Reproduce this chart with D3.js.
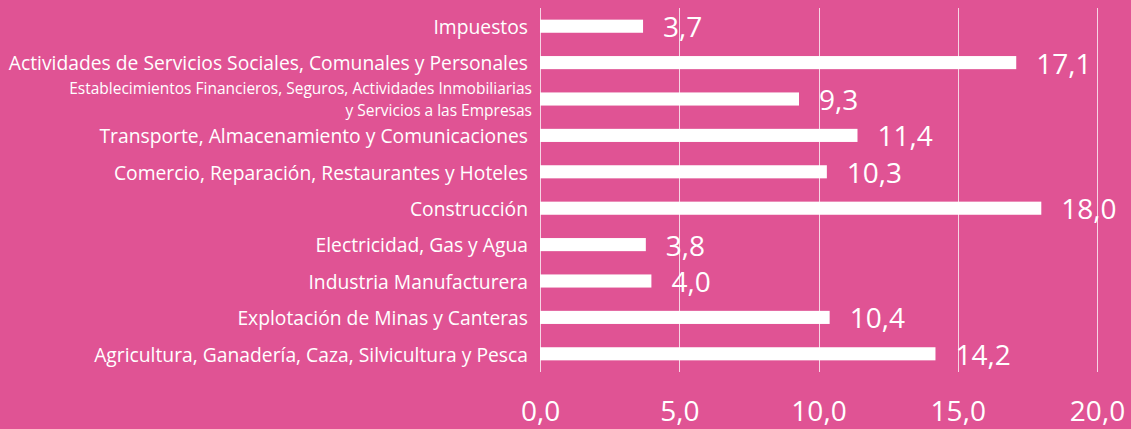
<!DOCTYPE html>
<html>
<head>
<meta charset="utf-8">
<script src="https://cdn.jsdelivr.net/npm/d3@7"></script>
<style>
    html, body { margin: 0; padding: 0; background: #E05394; }
    #chart text { fill: #fff; font-family: "Open Sans", sans-serif; }
</style>
</head>
<body>
<div id="chart"></div>
<script>
var categories = [
    "Impuestos",
    "Actividades de Servicios Sociales, Comunales y Personales",
    "Establecimientos Financieros, Seguros, Actividades Inmobiliarias\ny Servicios a las Empresas",
    "Transporte, Almacenamiento y Comunicaciones",
    "Comercio, Reparación, Restaurantes y Hoteles",
    "Construcción",
    "Electricidad, Gas y Agua",
    "Industria Manufacturera",
    "Explotación de Minas y Canteras",
    "Agricultura, Ganadería, Caza, Silvicultura y Pesca"
];
var values = [3.7, 17.1, 9.3, 11.4, 10.3, 18.0, 3.8, 4.0, 10.4, 14.2];
var tickValues = [0, 5, 10, 15, 20];

(function () {
    var width = 1131,
        height = 429;

    var esFormat = d3.formatLocale({ decimal: ",", thousands: ".", grouping: [3], currency: ["", ""] }).format(".1f");

    var svg = d3.select("#chart")
        .append("svg")
        .attr("width", width)
        .attr("height", height);

    var x = d3.scaleLinear().domain([0, 20]).range([540, 1097]);
    var y = d3.scaleBand().domain(categories).range([8, 372]).paddingInner(0.64).paddingOuter(0.32);

    // gridlines
    svg.selectAll(".grid")
        .data(tickValues)
        .enter().append("line")
        .attr("class", "grid")
        .attr("x1", d => Math.round(x(d)) + 0.5)
        .attr("x2", d => Math.round(x(d)) + 0.5)
        .attr("y1", 8)
        .attr("y2", 372)
        .attr("stroke", "rgba(255,255,255,0.75)")
        .attr("stroke-width", 1);

    // bars
    svg.selectAll(".bar")
        .data(values)
        .enter().append("rect")
        .attr("class", "bar")
        .attr("x", x(0))
        .attr("y", (d, i) => y(categories[i]))
        .attr("width", d => x(d) - x(0))
        .attr("height", y.bandwidth())
        .attr("fill", "#fff");

    // value labels
    svg.selectAll(".value")
        .data(values)
        .enter().append("text")
        .attr("class", "value")
        .attr("x", d => x(d) + 20)
        .attr("y", (d, i) => y(categories[i]) + y.bandwidth() / 2 + 11)
        .style("font-size", "28px")
        .text(d => esFormat(d));

    // category labels
    var labels = svg.selectAll(".cat")
        .data(categories)
        .enter().append("text")
        .attr("class", "cat")
        .attr("text-anchor", "end")
        .attr("x", d => d.indexOf("\n") >= 0 ? 532 : 528)
        .attr("y", d => y(d) + y.bandwidth() / 2)
        .style("font-size", d => d.indexOf("\n") >= 0 ? "15.5px" : "19.3px");

    labels.each(function (d) {
        var lines = d.split("\n");
        var t = d3.select(this);
        lines.forEach(function (line, i) {
            t.append("tspan")
                .attr("x", t.attr("x"))
                .attr("dy", lines.length > 1 ? (i == 0 ? "-0.3em" : "1.38em") : "0.4em")
                .text(line);
        });
    });

    // x axis
    var axis = svg.append("g")
        .attr("transform", "translate(0,400)")
        .call(d3.axisBottom(x).tickValues(tickValues).tickFormat(esFormat).tickSize(0).tickPadding(0));

    axis.select(".domain").remove();
    axis.selectAll("text")
        .attr("dy", "0.75em")
        .attr("y", 0)
        .style("font-size", "28px")
        .style("font-family", "'Open Sans', sans-serif")
        .attr("fill", "#fff");
})();
</script>
</body>
</html>
